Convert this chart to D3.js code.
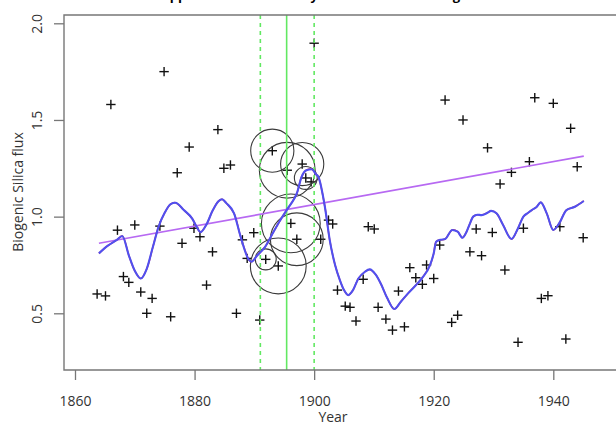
<!DOCTYPE html>
<html>
<head>
<meta charset="utf-8">
<script src="https://cdn.jsdelivr.net/npm/d3@7"></script>
<style>
  html, body { margin: 0; padding: 0; background: #fff; }
  svg { display: block; }
  text { font-family: "Open Sans", "Liberation Sans", Arial, sans-serif; fill: #333; }
</style>
</head>
<body>
<svg id="chart" width="616" height="425"></svg>
<script>
// Annual biogenic silica flux observations
const obsYears = [1863.7, 1865.1, 1866.0, 1867.1, 1868.1, 1869.0, 1870.0, 1871.0, 1872.0, 1872.9,
  1874.2, 1874.9, 1876.0, 1877.1, 1877.9, 1879.1, 1879.9, 1880.9, 1882.0, 1883.0,
  1883.9, 1884.9, 1886.0, 1887.0, 1888.0, 1888.8, 1889.9, 1890.9, 1891.9, 1893.0,
  1894.0, 1895.5, 1896.1, 1897.1, 1898.0, 1898.6, 1899.5, 1900.0, 1901.1, 1902.4,
  1903.1, 1903.9, 1905.2, 1906.0, 1907.0, 1908.2, 1909.05, 1910.05, 1910.7, 1912.0,
  1913.1, 1914.1, 1915.1, 1916.0, 1917.0, 1918.1, 1918.8, 1920.0, 1921.0, 1921.9,
  1923.0, 1924.0, 1924.9, 1926.05, 1927.1, 1928.0, 1929.0, 1929.8, 1931.1, 1931.9,
  1933.0, 1934.1, 1935.0, 1936.0, 1936.9, 1938.0, 1939.1, 1940.0, 1941.1, 1942.1,
  1942.9, 1944.0, 1945.0];
const obsFlux = [0.60, 0.59, 1.58, 0.93, 0.69, 0.66, 0.957, 0.61, 0.50, 0.577,
  0.951, 1.75, 0.482, 1.227, 0.862, 1.36, 0.94, 0.896, 0.646, 0.818,
  1.45, 1.25, 1.267, 0.50, 0.88, 0.784, 0.917, 0.465, 0.779, 1.341,
  0.745, 1.24, 0.965, 0.883, 1.272, 1.20, 1.18, 1.897, 0.883, 0.982,
  0.962, 0.62, 0.537, 0.531, 0.46, 0.676, 0.948, 0.936, 0.531, 0.47,
  0.413, 0.615, 0.43, 0.736, 0.684, 0.65, 0.75, 0.68, 0.853, 1.603,
  0.453, 0.49, 1.50, 0.818, 0.936, 0.798, 1.356, 0.918, 1.169, 0.724,
  1.229, 0.35, 0.94, 1.284, 1.615, 0.577, 0.591, 1.586, 0.948, 0.367,
  1.457, 1.258, 0.891];

// Smoothed flux curve
const smoothYears = [1864.0, 1865.5, 1867.0, 1867.9, 1869.0, 1870.0, 1871.0, 1872.0, 1873.0, 1874.0,
  1875.0, 1876.0, 1876.8, 1878.2, 1879.6, 1880.3, 1881.0, 1882.0, 1883.0, 1884.0,
  1884.6, 1885.3, 1886.6, 1887.7, 1889.1, 1889.5, 1890.5, 1891.8, 1893.0, 1894.3,
  1895.4, 1896.2, 1897.1, 1897.9, 1898.7, 1899.6, 1900.3, 1900.7, 1901.8, 1902.6,
  1903.5, 1904.3, 1905.0, 1905.7, 1906.5, 1907.4, 1908.5, 1909.3, 1910.3, 1911.2,
  1912.2, 1913.4, 1914.5, 1915.7, 1917.0, 1918.0, 1919.4, 1920.0, 1920.4, 1921.1,
  1921.9, 1923.1, 1924.0, 1924.8, 1925.5, 1926.0, 1926.6, 1927.3, 1928.0, 1929.0,
  1929.6, 1930.5, 1931.6, 1933.0, 1934.1, 1935.0, 1935.8, 1936.4, 1937.2, 1937.9,
  1938.9, 1940.0, 1941.0, 1942.2, 1943.6, 1945.1];
const smoothFlux = [0.81, 0.85, 0.88, 0.90, 0.80, 0.72, 0.68, 0.73, 0.84, 0.95,
  1.02, 1.065, 1.072, 1.034, 0.99, 0.95, 0.92, 0.96, 1.03, 1.08,
  1.09, 1.07, 1.017, 0.896, 0.776, 0.767, 0.80, 0.844, 0.91, 0.98,
  1.034, 1.07, 1.12, 1.206, 1.24, 1.245, 1.22, 1.206, 1.05, 0.88,
  0.75, 0.672, 0.62, 0.594, 0.62, 0.68, 0.715, 0.727, 0.70, 0.65,
  0.58, 0.522, 0.56, 0.603, 0.645, 0.68, 0.75, 0.81, 0.87, 0.88,
  0.884, 0.931, 0.922, 0.891, 0.922, 0.96, 1.0, 1.01, 1.008, 1.02,
  1.03, 1.017, 0.957, 0.884, 0.94, 1.0, 1.02, 1.034, 1.05, 1.074,
  1.017, 0.931, 0.966, 1.034, 1.051, 1.081];

// Linear trend end points
const trendYears = [1864.0, 1945.1];
const trendFlux = [0.862, 1.313];

// Change-point estimate and its interval
const changeYear = 1895.4;
const changeBounds = [1891.0, 1900.0];

// Influence circles: centre (year, flux) and relative weight
const inflYears = [1893.0, 1895.5, 1898.0, 1898.6, 1896.1, 1897.1, 1894.0, 1891.9];
const inflFlux = [1.341, 1.24, 1.272, 1.20, 0.965, 0.883, 0.745, 0.779];
const inflWeight = [0.72, 0.93, 0.72, 0.38, 0.98, 0.88, 0.93, 0.35];

// Axis ticks
const xTicks = [1860, 1880, 1900, 1920, 1940];
const yTicks = [0.5, 1.0, 1.5, 2.0];

const title = "Upper Lake silica flux by sediment core: change";
const xLabel = "Year";
const yLabel = "Biogenic Silica flux";

const svg = d3.select("#chart");

const frame = { left: 64, top: 15, bottom: 370, right: 640 };
const x = d3.scaleLinear().domain([1860, 1940]).range([75, 553.3]);
const y = d3.scaleLinear().domain([0.5, 2.0]).range([313.3, 23.3]);
const rScale = d3.scaleLinear().domain([0, 1]).range([0, 30]);

// Title (sits above the top edge)
svg.append("text")
  .attr("x", 160).attr("y", -0.5)
  .attr("font-size", 13).attr("font-weight", "bold")
  .style("fill", "#000")
  .text(title);

// Points
const pts = obsYears.map((yr, i) => ({ yr, v: obsFlux[i] }));
const arm = 4.7;
const pg = svg.append("g").attr("stroke", "#111").attr("stroke-width", 1.4);
pts.forEach(d => {
  const cx = x(d.yr), cy = y(d.v);
  pg.append("line").attr("x1", cx - arm).attr("x2", cx + arm).attr("y1", cy).attr("y2", cy);
  pg.append("line").attr("x1", cx).attr("x2", cx).attr("y1", cy - arm).attr("y2", cy + arm);
});

// Influence circles
svg.append("g").selectAll("circle")
  .data(inflYears.map((yr, i) => ({ yr, v: inflFlux[i], w: inflWeight[i] })))
  .join("circle")
  .attr("cx", d => x(d.yr)).attr("cy", d => y(d.v)).attr("r", d => rScale(d.w))
  .attr("fill", "none").attr("stroke", "#3a3a3a").attr("stroke-width", 1.1);

// Change point lines
const green = "#62e862";
svg.append("line")
  .attr("x1", x(changeYear)).attr("x2", x(changeYear))
  .attr("y1", frame.top).attr("y2", frame.bottom)
  .attr("stroke", green).attr("stroke-width", 1.6);
svg.append("g").selectAll("line").data(changeBounds).join("line")
  .attr("x1", d => x(d)).attr("x2", d => x(d))
  .attr("y1", frame.top).attr("y2", frame.bottom)
  .attr("stroke", green).attr("stroke-width", 1.6).attr("stroke-dasharray", "4,4");

// Trend line
const trend = trendYears.map((yr, i) => ({ yr, v: trendFlux[i] }));
svg.append("path")
  .datum(trend)
  .attr("fill", "none").attr("stroke", "#b769f2").attr("stroke-width", 1.6)
  .attr("d", d3.line().x(d => x(d.yr)).y(d => y(d.v)));

// Smoothed curve: raw fit in red beneath, smoothed trace in blue on top
const smooth = smoothYears.map((yr, i) => ({ yr, v: smoothFlux[i] }));
svg.append("path")
  .datum(smooth)
  .attr("fill", "none").attr("stroke", "#e83030").attr("stroke-width", 1.5)
  .attr("d", d3.line().curve(d3.curveCatmullRom).x(d => x(d.yr)).y(d => y(d.v)));
svg.append("path")
  .datum(smooth)
  .attr("fill", "none").attr("stroke", "#5050f0").attr("stroke-width", 2.1)
  .attr("d", d3.line().curve(d3.curveMonotoneX).x(d => x(d.yr)).y(d => y(d.v)));

// Frame
svg.append("path")
  .attr("d", `M${frame.right},${frame.top}H${frame.left}V${frame.bottom}H${frame.right}`)
  .attr("fill", "none").attr("stroke", "#777").attr("stroke-width", 1.4);

// X axis
const xAxis = svg.append("g")
  .attr("transform", `translate(0,${frame.bottom})`)
  .call(d3.axisBottom(x).tickValues(xTicks).tickSize(10).tickSizeOuter(0).tickPadding(16).tickFormat(d3.format("d")));
xAxis.select(".domain").remove();
xAxis.selectAll(".tick line").attr("stroke", "#777").attr("stroke-width", 1.3);
xAxis.selectAll(".tick text").attr("font-size", 14).attr("font-family", null).style("fill", "#333");

// Y axis
const yAxis = svg.append("g")
  .attr("transform", `translate(${frame.left},0)`)
  .call(d3.axisLeft(y).tickValues(yTicks).tickSize(10).tickSizeOuter(0).tickFormat(d3.format(".1f")));
yAxis.select(".domain").remove();
yAxis.selectAll(".tick line").attr("stroke", "#777").attr("stroke-width", 1.3);
yAxis.selectAll(".tick text")
  .attr("x", null).attr("dy", null)
  .attr("font-size", 14).attr("font-family", null).style("fill", "#333")
  .attr("text-anchor", "middle")
  .attr("transform", "translate(-22.5,0) rotate(-90)");

// Axis titles
svg.append("text")
  .attr("x", 333).attr("y", 422)
  .attr("text-anchor", "middle").attr("font-size", 14)
  .text(xLabel);
svg.append("text")
  .attr("transform", "translate(23,192) rotate(-90)")
  .attr("text-anchor", "middle").attr("font-size", 14)
  .text(yLabel);
</script>
</body>
</html>
